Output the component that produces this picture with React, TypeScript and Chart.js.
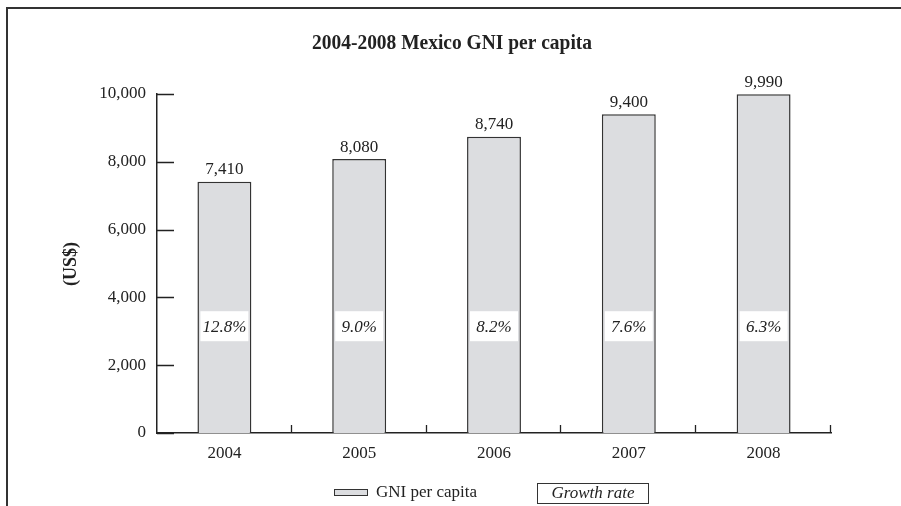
import React, { useEffect, useRef } from "react";
import { Chart, registerables } from "chart.js";

Chart.register(...registerables);

const years = ["2004", "2005", "2006", "2007", "2008"];
const gniPerCapita = [7410, 8080, 8740, 9400, 9990];
const growthRates = ["12.8%", "9.0%", "8.2%", "7.6%", "6.3%"];
const yTicks = [0, 2000, 4000, 6000, 8000, 10000];
const growthLabelLevel = 3150;

const SERIF = '"Liberation Serif", "Times New Roman", serif';
const INK = "#222";
const FS = 17;
const TITLE = "2004-2008 Mexico GNI per capita";

const decorPlugin = {
  id: "decor",
  afterDraw(chart: any) {
    const ctx = chart.ctx as CanvasRenderingContext2D;
    const x = chart.scales.x;
    const y = chart.scales.y;
    const area = chart.chartArea;
    ctx.save();

    // frame lines (top and left)
    ctx.strokeStyle = "#333";
    ctx.lineWidth = 2;
    ctx.beginPath();
    ctx.moveTo(7, 506);
    ctx.lineTo(7, 8);
    ctx.lineTo(901, 8);
    ctx.stroke();

    // title, set in a narrow bold face
    ctx.fillStyle = INK;
    ctx.font = `bold 22px ${SERIF}`;
    ctx.textAlign = "center";
    ctx.textBaseline = "middle";
    const w = ctx.measureText(TITLE).width;
    const sx = Math.min(1, 280 / w);
    ctx.save();
    ctx.translate(452, 43);
    ctx.scale(sx, 1);
    ctx.fillText(TITLE, 0, 0);
    ctx.restore();

    // inward y ticks
    ctx.strokeStyle = INK;
    ctx.lineWidth = 1.3;
    ctx.beginPath();
    for (const v of yTicks) {
      const py = Math.round(y.getPixelForValue(v)) + 0.5;
      ctx.moveTo(area.left, py);
      ctx.lineTo(area.left + 17, py);
    }
    // upward x ticks at category boundaries and the right end
    const step = (area.right - area.left) / years.length;
    for (let i = 1; i <= years.length; i++) {
      const px = Math.round(area.left + step * i) - 0.5;
      ctx.moveTo(px, area.bottom);
      ctx.lineTo(px, area.bottom - 8);
    }
    ctx.stroke();

    // value labels above bars
    ctx.font = `${FS}px ${SERIF}`;
    ctx.fillStyle = INK;
    ctx.textBaseline = "middle";
    gniPerCapita.forEach((v, i) => {
      const px = x.getPixelForValue(i);
      const py = y.getPixelForValue(v);
      ctx.fillText(v.toLocaleString("en-US"), px, py - 12);
    });

    // growth-rate boxes inside bars
    ctx.font = `italic ${FS}px ${SERIF}`;
    growthRates.forEach((g, i) => {
      const px = x.getPixelForValue(i);
      const py = y.getPixelForValue(growthLabelLevel);
      ctx.fillStyle = "#fff";
      ctx.fillRect(px - 24, py - 15, 48, 30);
      ctx.fillStyle = INK;
      ctx.fillText(g, px, py + 1);
    });

    // legend
    ctx.fillStyle = "#dcdde0";
    ctx.fillRect(334, 489, 33, 6);
    ctx.strokeStyle = "#333";
    ctx.lineWidth = 1;
    ctx.strokeRect(334.5, 489.5, 33, 6);
    ctx.fillStyle = INK;
    ctx.textAlign = "left";
    ctx.font = `${FS}px ${SERIF}`;
    ctx.fillText("GNI per capita", 376, 493);
    ctx.strokeRect(537.5, 483.5, 111, 20);
    ctx.font = `italic ${FS}px ${SERIF}`;
    ctx.textAlign = "center";
    ctx.fillText("Growth rate", 593, 494);

    // y axis title
    ctx.translate(71, 264);
    ctx.rotate(-Math.PI / 2);
    ctx.font = `bold 18px ${SERIF}`;
    ctx.fillText("(US$)", 0, 0);
    ctx.restore();
  },
};

export default function App() {
  const ref = useRef<HTMLCanvasElement>(null);

  useEffect(() => {
    if (!ref.current) return;
    const chart = new Chart(ref.current, {
      type: "bar",
      data: {
        labels: years,
        datasets: [
          {
            label: "GNI per capita",
            data: gniPerCapita,
            backgroundColor: "#dcdde0",
            borderColor: "#333",
            borderWidth: 1.5,
            categoryPercentage: 1,
            barPercentage: 0.4,
          },
        ],
      },
      options: {
        animation: false,
        responsive: false,
        maintainAspectRatio: false,
        layout: { padding: { left: 0, top: 94, right: 70, bottom: 0 } },
        plugins: {
          legend: { display: false },
          tooltip: { enabled: false },
          title: { display: false },
        },
        scales: {
          x: {
            grid: { display: false, drawTicks: false },
            border: { display: true, color: INK, width: 1.5 },
            ticks: {
              color: INK,
              font: { family: SERIF, size: FS },
              padding: 10,
              maxRotation: 0,
            },
            afterFit(s: any) {
              s.height = 506 - 433;
            },
          },
          y: {
            min: 0,
            max: 10000,
            grid: { display: false, drawTicks: false },
            border: { display: true, color: INK, width: 1.5 },
            afterBuildTicks(s: any) {
              s.ticks = yTicks.map((v) => ({ value: v }));
            },
            ticks: {
              color: INK,
              font: { family: SERIF, size: FS },
              padding: 11,
              callback: (v: any) => Number(v).toLocaleString("en-US"),
            },
            afterFit(s: any) {
              s.width = 157;
            },
          },
        },
      },
      plugins: [decorPlugin],
    });
    return () => chart.destroy();
  }, []);

  return (
    <div style={{ position: "fixed", left: 0, top: 0, width: 901, height: 506, background: "#fff" }}>
      <canvas ref={ref} width={901} height={506} style={{ display: "block" }} />
    </div>
  );
}
